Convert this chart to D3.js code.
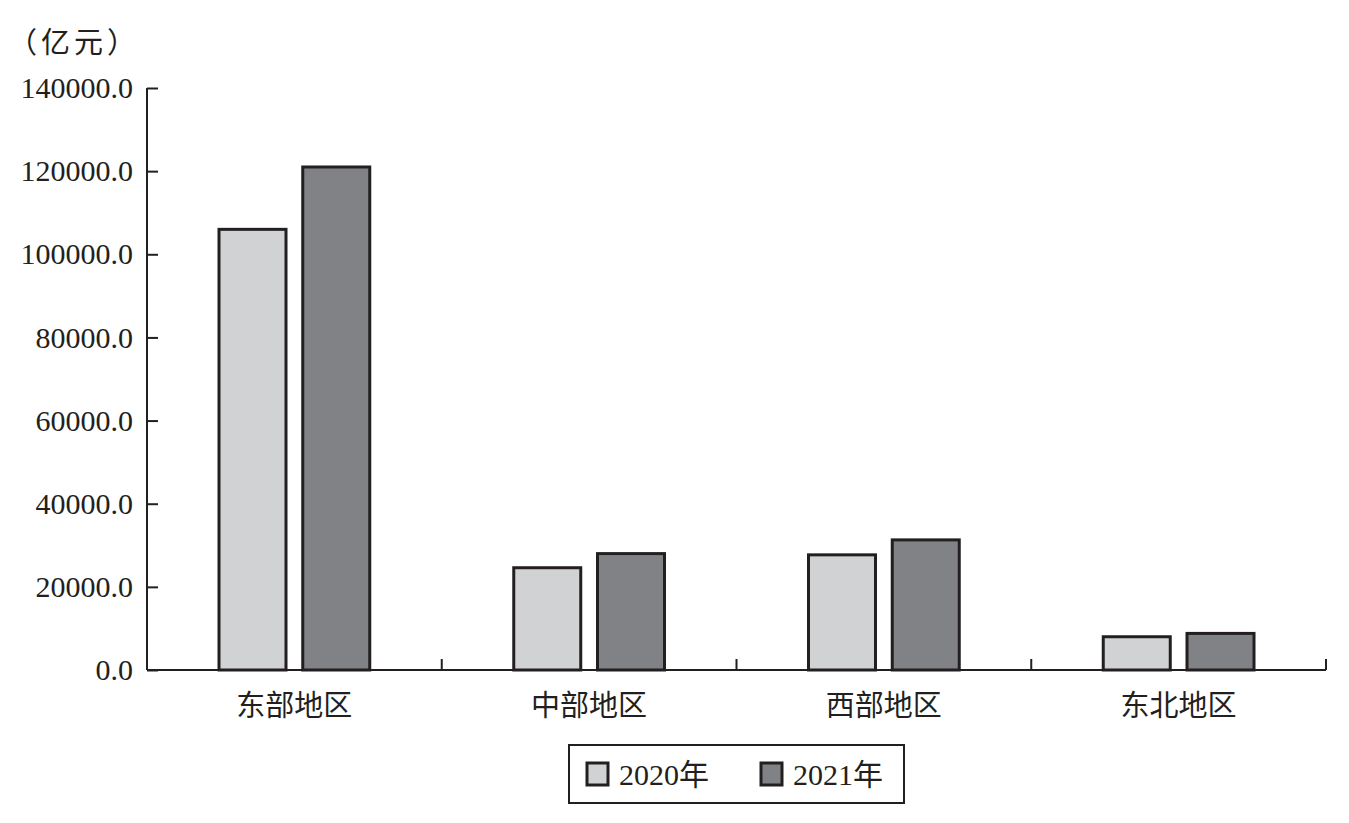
<!DOCTYPE html>
<html>
<head>
<meta charset="utf-8">
<script src="https://cdn.jsdelivr.net/npm/d3@7"></script>
<style>
  body { margin: 0; background: #fff; }
</style>
</head>
<body>
<script>
var regions = ["东部地区", "中部地区", "西部地区", "东北地区"];
var years = ["2020年", "2021年"];
var values2020 = [106000, 24600, 27700, 8000];
var values2021 = [121000, 28000, 31300, 8800];
var yTicks = [0, 20000, 40000, 60000, 80000, 100000, 120000, 140000];
var colors = ["#d0d2d4", "#808285"];

var width = 1349, height = 823;
var plotL = 147, plotR = 1326, plotT = 88, plotB = 670;
var ink = "#231f20";
var serifFont = "'Liberation Serif', 'Times New Roman', 'DejaVu Serif', serif";
var cjkFont = "'Noto Sans CJK SC', sans-serif";

var svg = d3.select("body").append("svg")
  .attr("width", width)
  .attr("height", height);

var x = d3.scaleBand().domain(regions).range([plotL, plotR]).padding(0);
var inner = d3.scaleBand().domain(years).range([72, x.bandwidth() - 72]).paddingInner(0.2);
var y = d3.scaleLinear().domain([0, 140000]).range([plotB, plotT]);

var series = [values2020, values2021];

// bars
years.forEach(function(yr, j) {
  svg.selectAll(".bar" + j)
    .data(series[j])
    .enter()
    .append("rect")
    .attr("class", "bar" + j)
    .attr("x", function(d, i) { return x(regions[i]) + inner(yr); })
    .attr("y", function(d) { return y(d); })
    .attr("width", inner.bandwidth())
    .attr("height", function(d) { return y(0) - y(d); })
    .attr("fill", colors[j])
    .attr("stroke", ink)
    .attr("stroke-width", 3);
});

// y axis
var yAxis = svg.append("g")
  .attr("transform", "translate(" + plotL + ",0)")
  .call(d3.axisRight(y).tickValues(yTicks).tickSize(11).tickFormat(d3.format(".1f")));
yAxis.attr("font-family", null);
yAxis.select(".domain").attr("d", "M0," + plotT + "V" + plotB).attr("stroke", ink).attr("stroke-width", 2);
yAxis.selectAll(".tick line").attr("stroke", ink).attr("stroke-width", 2);
yAxis.selectAll(".tick text")
  .attr("x", -14)
  .attr("text-anchor", "end")
  .style("font-family", serifFont)
  .style("font-size", "30px")
  .attr("fill", ink);

// x axis
var xAxis = svg.append("g")
  .attr("transform", "translate(0," + plotB + ")")
  .call(d3.axisBottom(x).tickSize(0).tickFormat(""));
xAxis.select(".domain").attr("d", "M" + plotL + ",0H" + plotR).attr("stroke", ink).attr("stroke-width", 2);

// category separators, pointing up
svg.selectAll(".sep")
  .data(regions)
  .enter()
  .append("line")
  .attr("class", "sep")
  .attr("x1", function(d) { return x(d) + x.bandwidth(); })
  .attr("x2", function(d) { return x(d) + x.bandwidth(); })
  .attr("y1", plotB)
  .attr("y2", plotB - 11)
  .attr("stroke", ink)
  .attr("stroke-width", 2);

svg.selectAll(".cat")
  .data(regions)
  .enter()
  .append("text")
  .attr("class", "cat")
  .text(function(d) { return d; })
  .attr("x", function(d) { return x(d) + x.bandwidth() / 2; })
  .attr("y", 716)
  .attr("text-anchor", "middle")
  .style("font-family", cjkFont)
  .style("font-size", "29px")
  .attr("fill", ink);

// unit
svg.append("text")
  .text("（亿元）")
  .attr("x", 8)
  .attr("y", 53)
  .style("font-family", cjkFont)
  .style("font-size", "29px")
  .attr("letter-spacing", 4)
  .attr("fill", ink);

// legend
var legend = svg.append("g");
legend.append("rect")
  .attr("x", 569).attr("y", 745)
  .attr("width", 335).attr("height", 58)
  .attr("fill", "none")
  .attr("stroke", ink)
  .attr("stroke-width", 2);

var legX = [587, 761];
years.forEach(function(yr, j) {
  legend.append("rect")
    .attr("x", legX[j]).attr("y", 763)
    .attr("width", 21).attr("height", 22)
    .attr("fill", colors[j])
    .attr("stroke", ink)
    .attr("stroke-width", 3);
  var t = legend.append("text")
    .attr("x", legX[j] + 32)
    .attr("y", 785)
    .style("font-size", "30px")
    .attr("fill", ink);
  t.append("tspan").style("font-family", serifFont).text(yr.slice(0, 4));
  t.append("tspan").style("font-family", cjkFont).text(yr.slice(4));
});
</script>
</body>
</html>
